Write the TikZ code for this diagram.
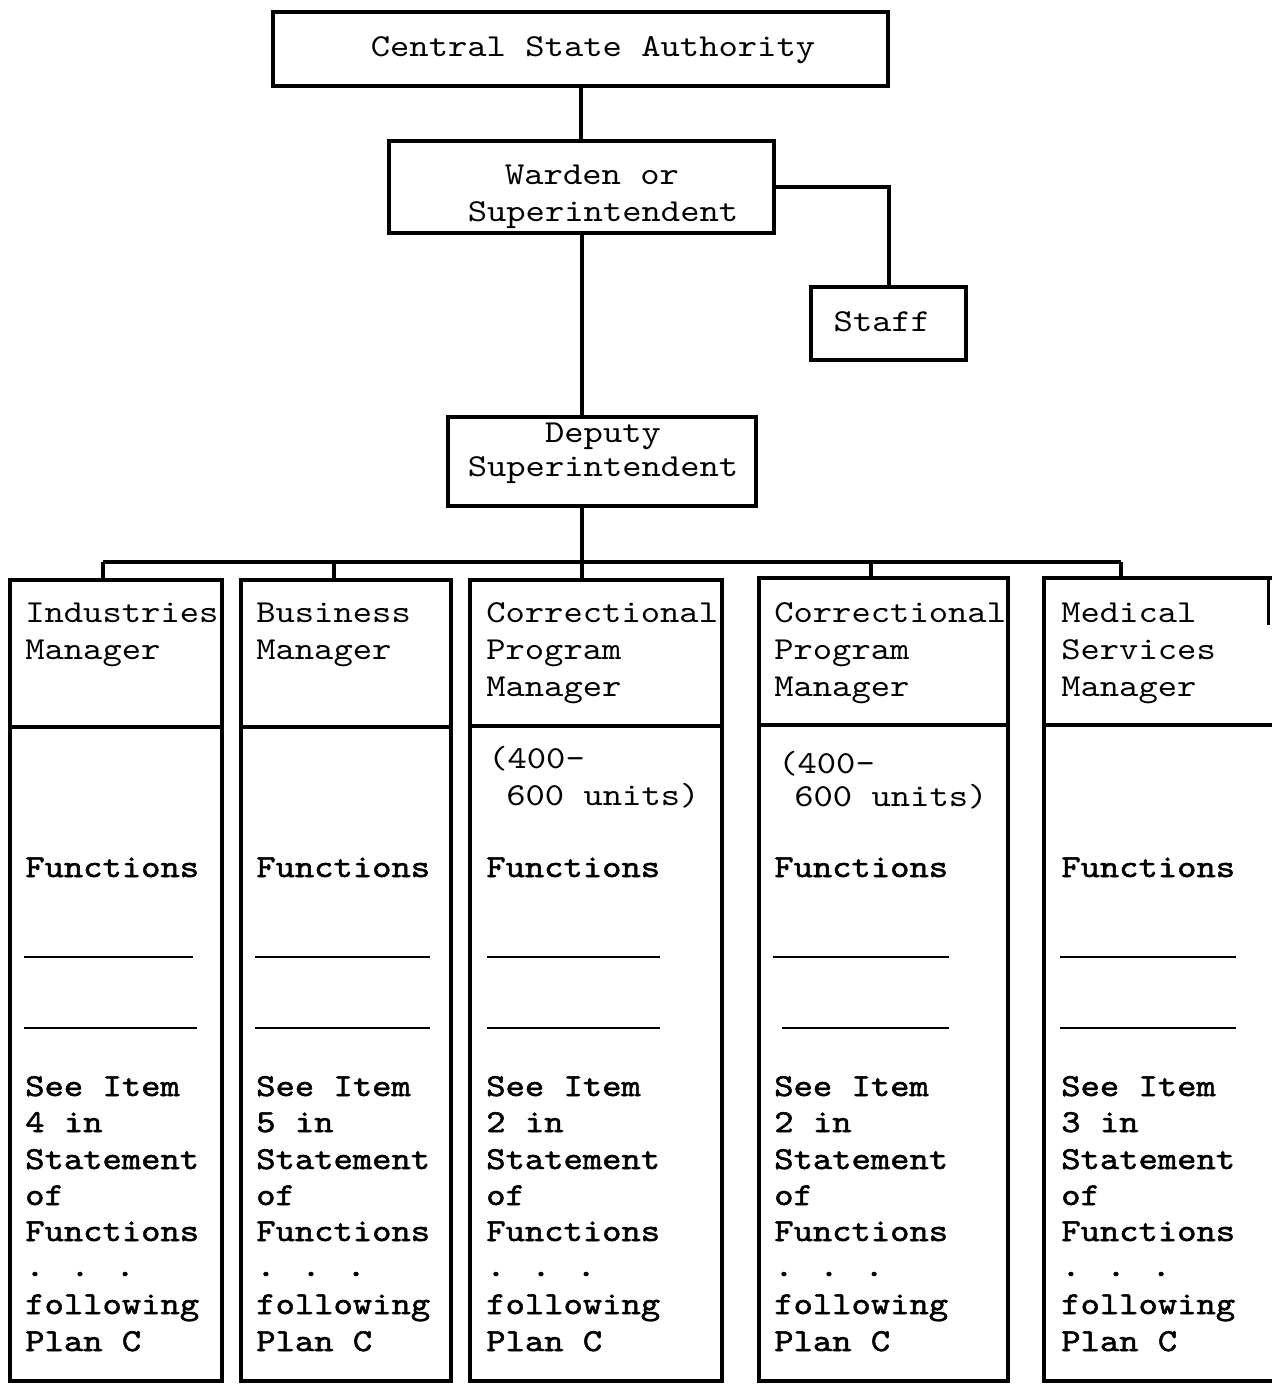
\documentclass[tikz,border=0pt]{standalone}
\usepackage{fontspec}
\newfontfamily\tw{lmmono10-regular.otf}[FakeStretch=1.15]
\newfontfamily\twb{lmmono10-regular.otf}[FakeStretch=1.15,FakeBold=1.6]
\usetikzlibrary{fit}
\begin{document}
\begin{tikzpicture}[x=0.75pt,y=-0.75pt,
  box/.style={draw, line width=2.4pt, inner sep=0pt},
  conn/.style={line width=3pt},
  lbl/.style={anchor=base west, inner sep=0pt, font={\tw\fontsize{24}{28}\selectfont}},
  lblc/.style={lbl, anchor=base},
  lblb/.style={lbl, font={\twb\fontsize{24}{28}\selectfont}},
  blank/.style={line width=1.5pt}]
\path[use as bounding box] (0,0) rectangle (1271,1384);

% top boxes
\node[box, fit={(273,12) (888,86)}] (csa) {};
\node[box, fit={(389,141) (774,233)}] (war) {};
\node[box, fit={(811,287) (966,360)}] (stf) {};
\node[box, fit={(448,417) (756,506)}] (dep) {};

\node[lblc] (tcsa) at (593,57) {Central State Authority};
\node[lblc] (tw1) at (592,185) {Warden or};
\node[lblc] (tw2) at (603,221) {Superintendent};
\node[lblc] (tst) at (882,331) {Staff};
\node[lblc] (td1) at (603,442) {Deputy};
\node[lblc] (td2) at (603,476) {Superintendent};

% columns
\node[box, fit={(10,580) (222,727)}] (c1h) {};
\node[box, fit={(10,727) (222,1381)}] (c1b) {};
\node[box, fit={(241,580) (451,727)}] (c2h) {};
\node[box, fit={(241,727) (451,1381)}] (c2b) {};
\node[box, fit={(470,580) (722,726)}] (c3h) {};
\node[box, fit={(470,726) (722,1381)}] (c3b) {};
\node[box, fit={(759,578) (1008,725)}] (c4h) {};
\node[box, fit={(759,725) (1008,1381)}] (c4b) {};
\node[box, fit={(1044,578) (1290,725)}] (c5h) {};
\node[box, fit={(1044,725) (1290,1381)}] (c5b) {};
\draw[line width=2.25pt] (1268,578) -- (1268,625);

% connectors
\coordinate (b1) at (103,562);
\coordinate (b2) at (334,562);
\coordinate (b3) at (582,562);
\coordinate (b4) at (871,562);
\coordinate (b5) at (1121,562);
\draw[conn] (csa.south) -- (csa.south |- war.north);
\draw[conn] (war.east) -| (stf.north);
\draw[conn] (b3 |- war.south) -- (b3 |- dep.north);
\draw[conn] (b3 |- dep.south) -- (b3);
\draw[conn] (b1) -- (b5);
\draw[conn] (b1) -- (b1 |- c1h.north);
\draw[conn] (b2) -- (b2 |- c2h.north);
\draw[conn] (b3) -- (b3 |- c3h.north);
\draw[conn] (b4) -- (b4 |- c4h.north);
\draw[conn] (b5) -- (b5 |- c5h.north);

% column 1
\node[lbl] (a1) at (25,622) {Industries};
\node[lbl] (a2) at (25,659) {Manager};
\node[lblb] (a3) at (25,877) {Functions};
\node[lblb] (a4) at (25,1096) {See Item};
\node[lblb] (a5) at (25,1132) {4 in};
\node[lblb] (a6) at (25,1169) {Statement};
\node[lblb] (a7) at (25,1205) {of};
\node[lblb] (a8) at (25,1241) {Functions};
\node[lblb] (a9) at (25,1276) {. . .};
\node[lblb] (a10) at (25,1314) {following};
\node[lblb] (a11) at (25,1351) {Plan C};
\draw[blank] (24,957) -- (193,957);
\draw[blank] (24,1028) -- (197,1028);

% column 2
\node[lbl] (b1t) at (256,622) {Business};
\node[lbl] (b2t) at (256,659) {Manager};
\node[lblb] (b3t) at (256,877) {Functions};
\node[lblb] (b4t) at (256,1096) {See Item};
\node[lblb] (b5t) at (256,1132) {5 in};
\node[lblb] (b6t) at (256,1169) {Statement};
\node[lblb] (b7t) at (256,1205) {of};
\node[lblb] (b8t) at (256,1241) {Functions};
\node[lblb] (b9t) at (256,1276) {. . .};
\node[lblb] (b10t) at (256,1314) {following};
\node[lblb] (b11t) at (256,1351) {Plan C};
\draw[blank] (255,957) -- (430,957);
\draw[blank] (255,1028) -- (430,1028);

% column 3
\node[lbl] (d1) at (486,622) {Correctional};
\node[lbl] (d2) at (486,659) {Program};
\node[lbl] (d3) at (486,696) {Manager};
\node[lbl] (d4) at (488,768) {(400-};
\node[lbl] (d5) at (506,805) {600 units)};
\node[lblb] (d6) at (486,877) {Functions};
\node[lblb] (d7) at (486,1096) {See Item};
\node[lblb] (d8) at (486,1132) {2 in};
\node[lblb] (d9) at (486,1169) {Statement};
\node[lblb] (d10) at (486,1205) {of};
\node[lblb] (d11) at (486,1241) {Functions};
\node[lblb] (d12) at (486,1276) {. . .};
\node[lblb] (d13) at (486,1314) {following};
\node[lblb] (d14) at (486,1351) {Plan C};
\draw[blank] (487,957) -- (660,957);
\draw[blank] (487,1028) -- (660,1028);

% column 4
\node[lbl] (e1) at (774,622) {Correctional};
\node[lbl] (e2) at (774,659) {Program};
\node[lbl] (e3) at (774,696) {Manager};
\node[lbl] (e4) at (778,773) {(400-};
\node[lbl] (e5) at (794,806) {600 units)};
\node[lblb] (e6) at (774,877) {Functions};
\node[lblb] (e7) at (774,1096) {See Item};
\node[lblb] (e8) at (774,1132) {2 in};
\node[lblb] (e9) at (774,1169) {Statement};
\node[lblb] (e10) at (774,1205) {of};
\node[lblb] (e11) at (774,1241) {Functions};
\node[lblb] (e12) at (774,1276) {. . .};
\node[lblb] (e13) at (774,1314) {following};
\node[lblb] (e14) at (774,1351) {Plan C};
\draw[blank] (773,957) -- (949,957);
\draw[blank] (782,1028) -- (949,1028);

% column 5
\node[lbl] (f1) at (1061,622) {Medical};
\node[lbl] (f2) at (1061,659) {Services};
\node[lbl] (f3) at (1061,696) {Manager};
\node[lblb] (f4) at (1061,877) {Functions};
\node[lblb] (f5) at (1061,1096) {See Item};
\node[lblb] (f6) at (1061,1132) {3 in};
\node[lblb] (f7) at (1061,1169) {Statement};
\node[lblb] (f8) at (1061,1205) {of};
\node[lblb] (f9) at (1061,1241) {Functions};
\node[lblb] (f10) at (1061,1276) {. . .};
\node[lblb] (f11) at (1061,1314) {following};
\node[lblb] (f12) at (1061,1351) {Plan C};
\draw[blank] (1060,957) -- (1236,957);
\draw[blank] (1060,1028) -- (1236,1028);
\end{tikzpicture}
\end{document}
